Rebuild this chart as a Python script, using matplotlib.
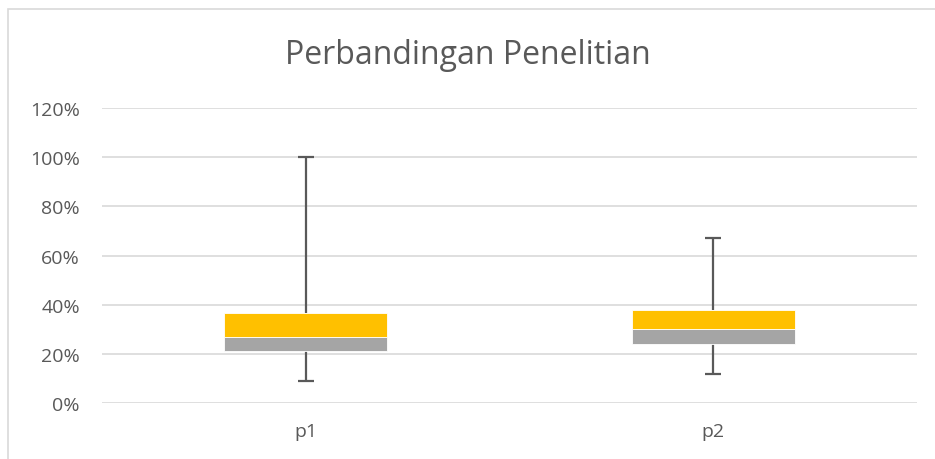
import matplotlib.pyplot as plt
from matplotlib.patches import Rectangle
from matplotlib.ticker import PercentFormatter

categories = ['p1', 'p2']
q1 = [0.21, 0.24]
median = [0.27, 0.30]
q3 = [0.365, 0.38]
lower = [0.09, 0.12]
upper = [1.00, 0.67]

title = 'Perbandingan Penelitian'
yticks = [0, 0.2, 0.4, 0.6, 0.8, 1.0, 1.2]

plt.rcParams['font.family'] = ['Open Sans', 'DejaVu Sans']
TXT = '#595959'

fig = plt.figure(figsize=(9.35, 4.6), dpi=100)
ax = fig.add_axes([102 / 935, 1 - 404 / 460, 815 / 935, (404 - 109) / 460])

# chart frame, cut off at right and bottom
fig.patches.append(Rectangle((8 / 935, -0.1), 1.2, 1 - 10 / 460 + 0.1,
                             transform=fig.transFigure, fill=False,
                             edgecolor='#d9d9d9', lw=1.2))

x = list(range(len(categories)))
low_box = [m - a for m, a in zip(median, q1)]
high_box = [b - m for b, m in zip(q3, median)]

# whiskers with caps only at the outer ends
ax.vlines(x, lower, q1, color=TXT, lw=1.6, zorder=2)
ax.vlines(x, q3, upper, color=TXT, lw=1.6, zorder=2)
ax.plot(x, lower, ls='none', marker='_', ms=12, mew=1.6, color=TXT, zorder=2)
ax.plot(x, upper, ls='none', marker='_', ms=12, mew=1.6, color=TXT, zorder=2)

ax.bar(x, low_box, bottom=q1, width=0.4, color='#a5a5a5',
       edgecolor='white', linewidth=0.6, zorder=3)
ax.bar(x, high_box, bottom=median, width=0.4, color='#ffc000',
       edgecolor='white', linewidth=0.6, zorder=3)

ax.set_xlim(-0.5, 1.5)
ax.set_ylim(0, 1.2)
ax.set_yticks(yticks)
ax.yaxis.set_major_formatter(PercentFormatter(1.0, decimals=0))
ax.set_xticks(x)
ax.set_xticklabels(categories)
ax.grid(axis='y', color='#d9d9d9', lw=1.2, zorder=0)
ax.set_axisbelow(True)
for s in ax.spines.values():
    s.set_visible(False)
ax.tick_params(length=0, labelsize=14, colors=TXT)
ax.tick_params(axis='x', pad=14)
ax.tick_params(axis='y', pad=16)

fig.text(0.5, 1 - 55 / 460, title, ha='center', va='center',
         fontsize=23, color=TXT)

plt.savefig('out.png', dpi=100)
